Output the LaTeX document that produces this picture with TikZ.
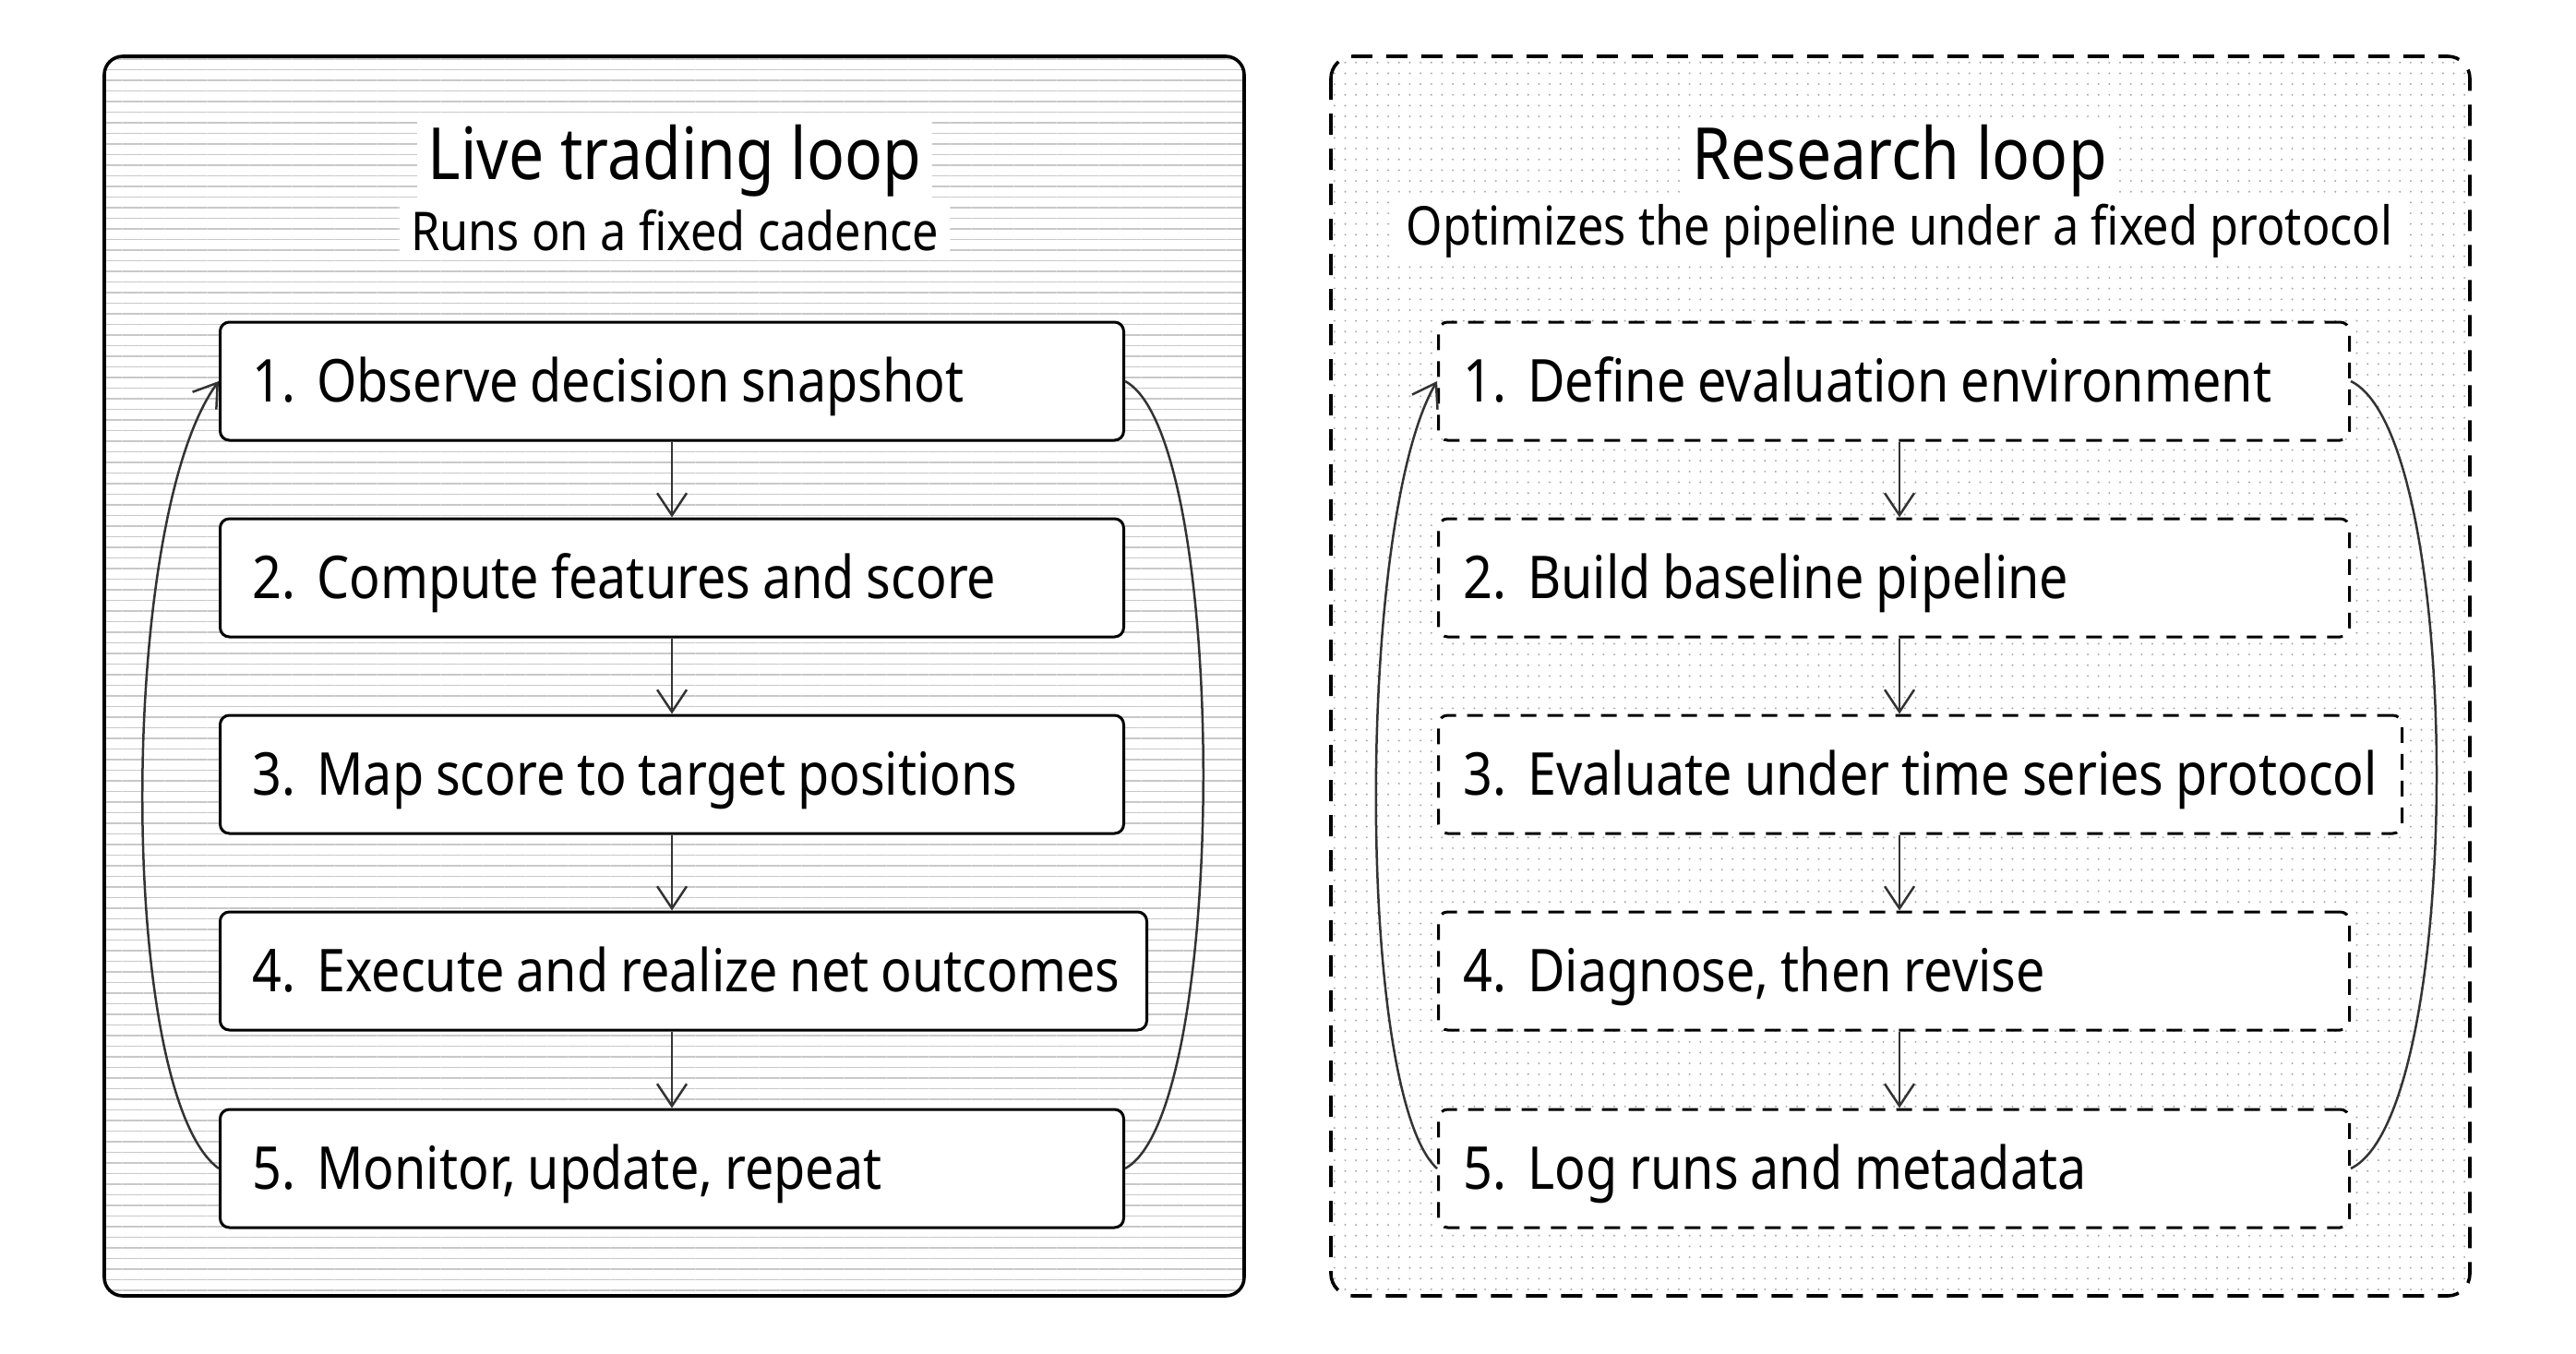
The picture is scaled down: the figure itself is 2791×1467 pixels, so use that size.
\documentclass[tikz,border=0pt]{standalone}
\usepackage{fontspec}
\setmainfont{Noto Sans}[FakeStretch=0.87]
\usetikzlibrary{patterns.meta,arrows.meta,calc}
\definecolor{linegray}{HTML}{C8C8C8}
\definecolor{dotgray}{HTML}{A8A8A8}
\definecolor{conngray}{HTML}{333333}
\newcommand{\numgap}{\hspace{0.36em}}
\newcommand{\steptxt}[1]{\spaceskip=0.2em\relax\mbox{#1}}
\begin{document}
\begin{tikzpicture}[x=0.5pt,y=-0.5pt,
  frameline/.style={draw=black, line width=1.8pt, rounded corners=10pt},
  stepbox/.style={draw=black, fill=white, line width=1.5pt, rounded corners=5pt,
    anchor=west, minimum height=64pt, inner xsep=17.5pt, align=left,
    text height=22.8pt, text depth=0pt,
    font=\fontsize{32}{36}\selectfont},
  dashbox/.style={stepbox, dash pattern=on 8.5pt off 6pt},
  titletext/.style={fill=white, inner xsep=6pt, inner ysep=4pt, font=\fontsize{39}{44}\selectfont},
  subtext/.style={fill=white, inner xsep=6pt, inner ysep=4pt, font=\fontsize{29}{33}\selectfont},
  conn/.style={draw=conngray, line width=1.25pt},
  tip/.style={-{Straight Barb[length=12pt,width=16pt,line width=1.25pt]}}
]
\useasboundingbox (0,0) rectangle (2791,1467);
\fill[white] (0,0) rectangle (2791,1467);

% panels
\draw[frameline, pattern={Lines[angle=0,distance=5.75pt,line width=0.75pt]}, pattern color=linegray]
  (113,61) rectangle (1348,1404);
\draw[frameline, rounded corners=12pt, dash pattern=on 11.5pt off 7.5pt, pattern={Dots[radius=0.55pt,distance=5.83pt]}, pattern color=dotgray]
  (1442,61) rectangle (2676,1404);

% titles
\node[titletext] (lt) at (731,174) {Live trading loop};
\node[subtext] (ls) at (731,250) {Runs on a fixed cadence};
\node[titletext] (rt) at (2058,174) {Research loop};
\node[subtext] (rs) at (2058,250) {Optimizes the pipeline under a fixed protocol};

% left steps
\node[stepbox, text width=454.5pt] (l1) at (237,413) {\steptxt{1.\numgap Observe decision snapshot}};
\node[stepbox, text width=454.5pt] (l2) at (237,626) {\steptxt{2.\numgap Compute features and score}};
\node[stepbox, text width=454.5pt] (l3) at (237,839) {\steptxt{3.\numgap Map score to target positions}};
\node[stepbox, text width=467pt] (l4) at (237,1052) {\steptxt{4.\numgap Execute and realize net outcomes}};
\node[stepbox, text width=454.5pt] (l5) at (237,1266) {\steptxt{5.\numgap Monitor, update, repeat}};

% right steps
\node[dashbox, inner xsep=13.5pt, text width=466.5pt] (r1) at (1557,413) {\steptxt{1.\numgap Define evaluation environment}};
\node[dashbox, inner xsep=13.5pt, text width=466.5pt] (r2) at (1557,626) {\steptxt{2.\numgap Build baseline pipeline}};
\node[dashbox, inner xsep=13.5pt, text width=495pt] (r3) at (1557,839) {\steptxt{3.\numgap Evaluate under time series protocol}};
\node[dashbox, inner xsep=13.5pt, text width=466.5pt] (r4) at (1557,1052) {\steptxt{4.\numgap Diagnose, then revise}};
\node[dashbox, inner xsep=13.5pt, text width=466.5pt] (r5) at (1557,1266) {\steptxt{5.\numgap Log runs and metadata}};

% left arrows
\draw[conn, tip] (l1.south) -- (l2.north);
\draw[conn, tip] (l2.south) -- (l3.north);
\draw[conn, tip] (l3.south) -- (l3.south |- l4.north);
\draw[conn, tip] (l3.south |- l4.south) -- (l5.north);
\draw[conn, tip] (l5.west) .. controls +(-110,-80) and +(-110,150) .. (l1.west);
\draw[conn] (l1.east) .. controls +(113,60) and +(113,-60) .. (l5.east);

% right arrows
\draw[conn, tip] (r1.south -| rt.south) -- (r2.north -| rt.south);
\draw[conn, tip] (r2.south -| rt.south) -- (r3.north -| rt.south);
\draw[conn, tip] (r3.south -| rt.south) -- (r4.north -| rt.south);
\draw[conn, tip] (r4.south -| rt.south) -- (r5.north -| rt.south);
\draw[conn, tip] (r5.west) .. controls +(-88,-80) and +(-88,150) .. (r1.west);
\draw[conn] (r1.east) .. controls +(124,60) and +(124,-60) .. (r5.east);
\end{tikzpicture}
\end{document}
